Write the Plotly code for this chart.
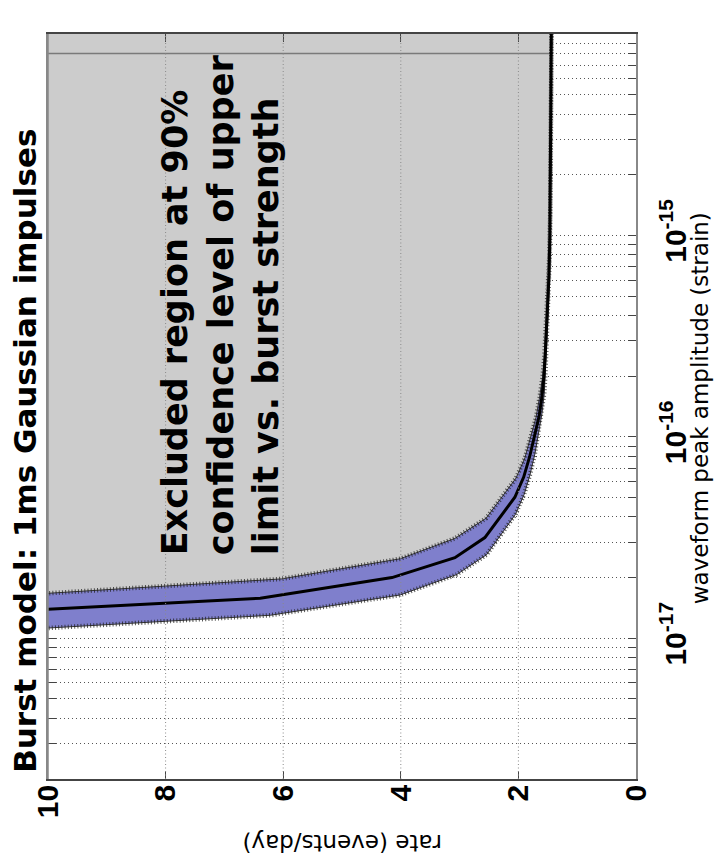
import plotly.graph_objects as go

# Upper limit on event rate vs. waveform peak amplitude (90% C.L.)
amplitude = [1.26e-17, 1.58e-17, 2.00e-17, 2.51e-17, 3.16e-17, 3.98e-17, 5.01e-17,
             6.31e-17, 7.94e-17, 1.00e-16, 1.26e-16, 1.58e-16, 2.00e-16, 2.51e-16,
             3.98e-16, 6.31e-16, 1.00e-15, 2.51e-15, 6.31e-15, 1.58e-14]
rate_limit = [12.8, 6.39, 4.15, 3.08, 2.57, 2.31, 2.06, 1.91, 1.81, 1.73, 1.65,
              1.60, 1.565, 1.545, 1.51, 1.48, 1.465, 1.45, 1.44, 1.435]

# Uncertainty band edges (calibration)
band_hi_amp = [1.57e-17, 1.97e-17, 2.48e-17, 3.13e-17, 3.94e-17, 4.96e-17, 6.24e-17,
               7.85e-17, 9.89e-17, 1.25e-16, 1.57e-16, 1.97e-16, 2.48e-16, 3.13e-16,
               4.96e-16, 7.85e-16, 1.25e-15, 3.13e-15, 7.85e-15, 1.97e-14]
band_hi_rate = [11.5, 6.03, 4.01, 3.08, 2.55, 2.29, 2.04, 1.89, 1.79, 1.70, 1.64,
                1.59, 1.56, 1.54, 1.505, 1.475, 1.46, 1.445, 1.435, 1.43]
band_lo_amp = [1.04e-17, 1.30e-17, 1.64e-17, 2.07e-17, 2.60e-17, 3.27e-17, 4.12e-17,
               5.19e-17, 6.53e-17, 8.22e-17, 1.04e-16, 1.30e-16, 1.64e-16, 2.07e-16,
               3.27e-16, 5.19e-16, 8.22e-16, 2.07e-15, 5.19e-15, 1.30e-14]
band_lo_rate = [12.0, 6.22, 4.01, 3.05, 2.54, 2.29, 2.05, 1.90, 1.80, 1.72, 1.66,
                1.60, 1.56, 1.54, 1.51, 1.48, 1.465, 1.45, 1.44, 1.435]

# Edge of the shaded excluded region
edge_amp = 8.0e-15
edge_rate = [10.0, 1.44]

rate_ticks = [0, 2, 4, 6, 8, 10]
decades = [-18, -17, -16, -15, -14]
amp_range = [2e-18, 1e-14]

title = "Burst model: 1ms Gaussian impulses"
region_text = "Excluded region at 90%<br>confidence level of upper<br>limit vs. burst strength"
x_title = "rate (events/day)"
y_title = "waveform peak amplitude (strain)"

GRAY = "#cccccc"
BLUE = "#7f7fcc"
BIG = "DejaVu Sans"
TICKFONT = "Liberation Sans"

# log-axis tick positions: every 1..9 multiple inside the range
amp_tickvals, amp_ticktext = [], []
for d in decades:
    for m in range(1, 10):
        v = m * 10.0 ** d
        if amp_range[0] * 0.999 <= v <= amp_range[1] * 1.001:
            amp_tickvals.append(v)
            amp_ticktext.append(f"10<sup>{d}</sup>" if m == 1 else "")

fig = go.Figure()

# excluded (shaded) region bounded by the limit curve
fig.add_trace(go.Scatter(
    x=rate_limit + [rate_limit[0]], y=amplitude + [amplitude[-1]],
    mode="lines", fill="toself", fillcolor=GRAY, line=dict(width=0),
    hoverinfo="skip", showlegend=False))
fig.add_trace(go.Scatter(
    x=edge_rate, y=[edge_amp, edge_amp], mode="lines",
    line=dict(color="#7a7a7a", width=1.5), hoverinfo="skip", showlegend=False))

# uncertainty band
fig.add_trace(go.Scatter(
    x=band_hi_rate + band_lo_rate[::-1], y=band_hi_amp + band_lo_amp[::-1],
    mode="lines", fill="toself", fillcolor=BLUE, line=dict(width=0),
    hoverinfo="skip", showlegend=False))
for bx, by in ((band_hi_rate, band_hi_amp), (band_lo_rate, band_lo_amp)):
    fig.add_trace(go.Scatter(x=bx, y=by, mode="lines",
                             line=dict(color="#333333", width=1),
                             hoverinfo="skip", showlegend=False))
    fig.add_trace(go.Scatter(x=bx, y=by, mode="lines",
                             line=dict(color="rgba(30,30,30,0.75)", width=4.5, dash="1px,2.2px"),
                             hoverinfo="skip", showlegend=False))

# limit curve
fig.add_trace(go.Scatter(x=rate_limit, y=amplitude, mode="lines",
                         line=dict(color="black", width=3),
                         hoverinfo="skip", showlegend=False))

# dotted vertical grid drawn over the shading
for r in rate_ticks[1:-1]:
    fig.add_shape(type="line", xref="x", yref="paper", x0=r, x1=r, y0=0, y1=1,
                  layer="above", line=dict(color="#8a8a8a", width=1, dash="1px,2.5px"))
# left frame edge, kept visible over the shading
fig.add_shape(type="line", xref="x", yref="paper", x0=rate_ticks[-1], x1=rate_ticks[-1],
              y0=0, y1=1, layer="above", line=dict(color="#888", width=1.5))

fig.update_xaxes(
    range=[10, 0], tickvals=rate_ticks, ticktext=[str(t) for t in rate_ticks],
    tickangle=-90, tickfont=dict(family=TICKFONT, size=30, color="black", weight="bold"),
    ticks="inside", ticklen=8, tickcolor="#444", tickwidth=1, ticklabelstandoff=-8,
    showline=True, linecolor="#444", linewidth=1.5, mirror="ticks",
    showgrid=False, zeroline=False)
fig.update_yaxes(
    type="log", range=[-17.699, -14], side="right",
    tickvals=amp_tickvals, ticktext=amp_ticktext, tickangle=-90,
    tickfont=dict(family=TICKFONT, size=30, color="black", weight="bold"),
    ticks="inside", ticklen=8, tickcolor="#444", tickwidth=1, ticklabelstandoff=12,
    showline=True, linecolor="#888", linewidth=1.5, mirror="ticks",
    showgrid=True, gridcolor="#555", gridwidth=1, griddash="1px,3px",
    zeroline=False, layer="below traces")

annos = [
    dict(text=title, x=-0.038, y=0.44, textangle=-90,
         font=dict(family=BIG, size=31, color="black", weight="bold")),
    dict(text=region_text, x=0.294, y=0.637, textangle=-90, align="left",
         font=dict(family=BIG, size=35, color="black", weight="bold")),
    dict(text=x_title, x=0.5, y=-0.086, textangle=180,
         font=dict(family=BIG, size=23, color="black")),
    dict(text=y_title, x=1.108, y=0.497, textangle=-90,
         font=dict(family=BIG, size=23, color="black")),
]
for a in annos:
    fig.add_annotation(xref="paper", yref="paper", showarrow=False,
                       xanchor="center", yanchor="middle", **a)

fig.update_layout(
    width=715, height=868,
    margin=dict(l=48, r=79, t=34, b=89),
    paper_bgcolor="white", plot_bgcolor="white",
    showlegend=False)

fig.write_html("out.html")
